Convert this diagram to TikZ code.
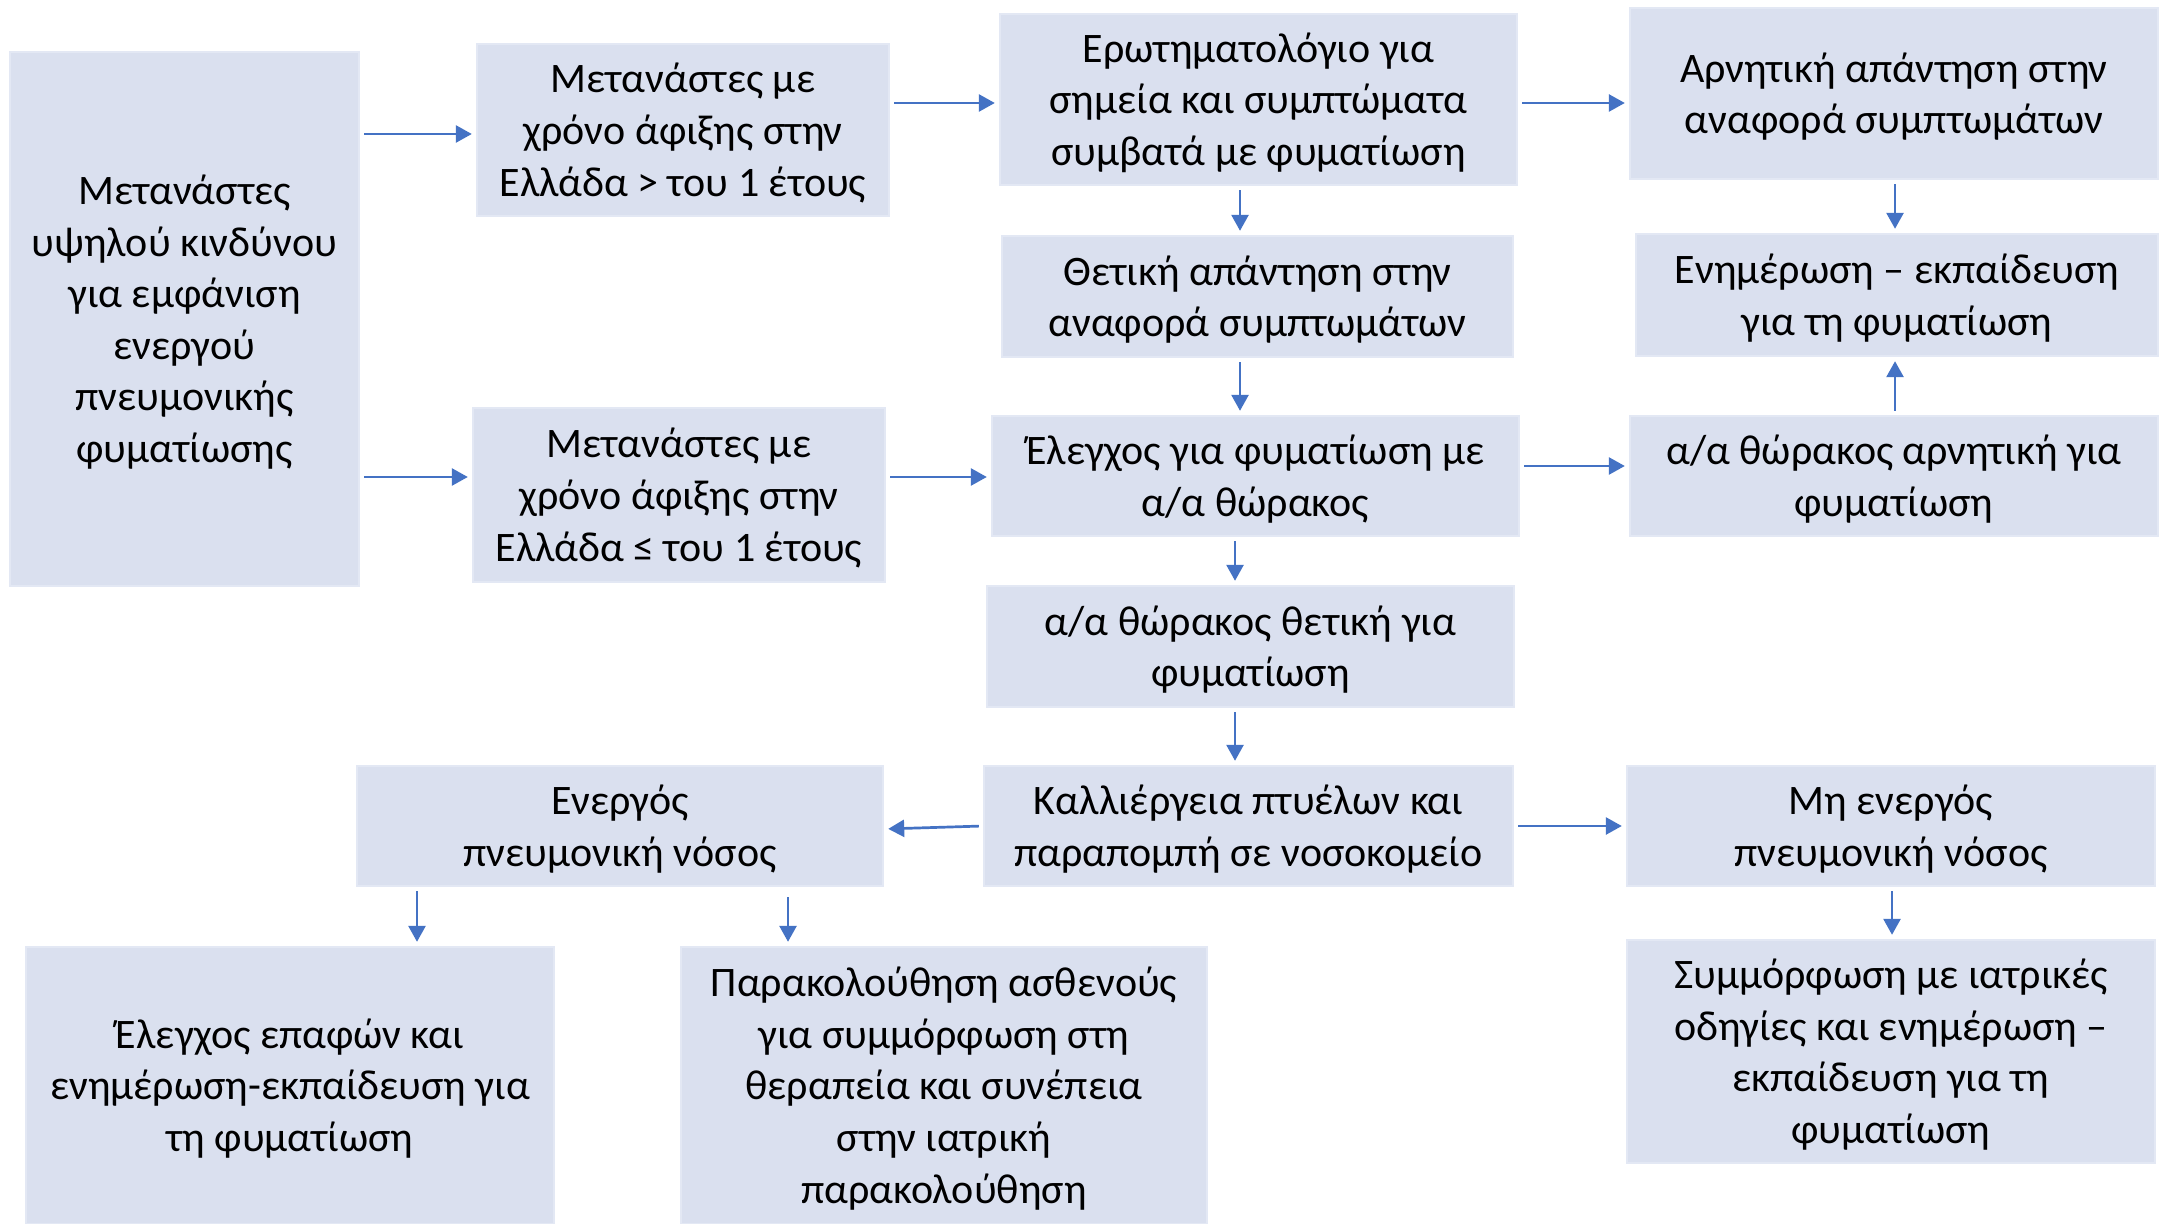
\documentclass[tikz,border=0pt]{standalone}
\usepackage{fontspec}
\setmainfont{Carlito}
\usetikzlibrary{arrows.meta}
\definecolor{boxfill}{HTML}{DAE0EF}
\definecolor{boxedge}{HTML}{E3E8F4}
\definecolor{arrowblue}{HTML}{4472C4}
% \flowbox{name}{width}{height}{centre}{text}: a shaded box with its caption
\newcommand\flowbox[5]{%
  \node (#1) [box, minimum width=#2, minimum height=#3] at #4 {};
  \node (#1-text) [caption] at ([yshift=-1.5pt]#1.center) {#5};}
\begin{document}
\begin{tikzpicture}[x=0.5pt, y=-0.5pt,
  box/.style={fill=boxfill, draw=boxedge, line width=1.2pt, inner sep=0pt},
  caption/.style={inner sep=0pt, align=center, text=black,
    font=\fontsize{21}{25.8}\selectfont},
  arr/.style={draw=arrowblue, line width=1.35pt, shorten <=2pt, shorten >=2pt,
    -{Triangle[length=8pt,width=8.5pt]}}]
\useasboundingbox[fill=white] (0,0) rectangle (2161,1224);

% boxes
\flowbox{L}{174.5pt}{267pt}{(184.5,319)}{Μετανάστες\\υψηλού κινδύνου\\για εμφάνιση\\ενεργού\\πνευμονικής\\φυματίωσης}
\flowbox{B2}{206pt}{86pt}{(683,130)}{Μετανάστες με\\χρόνο άφιξης στην\\Ελλάδα > του 1 έτους}
\flowbox{B3}{258.5pt}{85.5pt}{(1258.5,99.5)}{Ερωτηματολόγιο για\\σημεία και συμπτώματα\\συμβατά με φυματίωση}
\flowbox{B4}{264pt}{85.5pt}{(1894,93.5)}{Αρνητική απάντηση στην\\αναφορά συμπτωμάτων}
\flowbox{B5}{255.5pt}{60.5pt}{(1257.5,296.5)}{Θετική απάντηση στην\\αναφορά συμπτωμάτων}
\flowbox{B6}{261pt}{61pt}{(1897,295)}{Ενημέρωση – εκπαίδευση\\για τη φυματίωση}
\flowbox{B7}{206pt}{87pt}{(679,495)}{Μετανάστες με\\χρόνο άφιξης στην\\Ελλάδα ≤ του 1 έτους}
\flowbox{B8}{263.5pt}{60pt}{(1255.5,476)}{Έλεγχος για φυματίωση με\\α/α θώρακος}
\flowbox{B9}{264pt}{60pt}{(1894,476)}{α/α θώρακος αρνητική για\\φυματίωση}
\flowbox{B10}{263.5pt}{60.5pt}{(1250.5,646.5)}{α/α θώρακος θετική για\\φυματίωση}
\flowbox{B11}{264.5pt}{60pt}{(1248.5,826)}{Καλλιέργεια πτυέλων και\\παραπομπή σε νοσοκομείο}
\flowbox{B12}{263pt}{60pt}{(620,826)}{Ενεργός\\πνευμονική νόσος}
\flowbox{B13}{264pt}{60pt}{(1891,826)}{Μη ενεργός\\πνευμονική νόσος}
\flowbox{B14}{264pt}{138.5pt}{(290,1085.5)}{Έλεγχος επαφών και\\ενημέρωση-εκπαίδευση για\\τη φυματίωση}
\flowbox{B15}{263pt}{138.5pt}{(944,1085.5)}{Παρακολούθηση ασθενούς\\για συμμόρφωση στη\\θεραπεία και συνέπεια\\στην ιατρική\\παρακολούθηση}
\flowbox{B16}{264pt}{111.5pt}{(1891,1051.5)}{Συμμόρφωση με ιατρικές\\οδηγίες και ενημέρωση –\\εκπαίδευση για τη\\φυματίωση}

% connectors
\draw[arr] (L.east |- 0,134) -- (B2.west |- 0,134);
\draw[arr] (L.east |- 0,477) -- (B7.west |- 0,477);
\draw[arr] (B2.east |- 0,103) -- (B3.west |- 0,103);
\draw[arr] (B7.east |- 0,477) -- (B8.west |- 0,477);
\draw[arr] (B3.east |- 0,103) -- (B4.west |- 0,103);
\draw[arr] (B3.south -| 1240,0) -- (B5.north -| 1240,0);
\draw[arr] (B5.south -| 1240,0) -- (B8.north -| 1240,0);
\draw[arr] (B4.south -| 1895,0) -- (B6.north -| 1895,0);
\draw[arr] (B9.north -| 1895,0) -- (B6.south -| 1895,0);
\draw[arr] (B8.east |- 0,466) -- (B9.west |- 0,466);
\draw[arr] (B8.south -| 1235,0) -- (B10.north -| 1235,0);
\draw[arr] (B10.south -| 1235,0) -- (B11.north -| 1235,0);
\draw[arr] (B11.west |- 0,826) -- (B12.east |- 0,829);
\draw[arr] (B11.east |- 0,826) -- (B13.west |- 0,826);
\draw[arr] (B12.south -| 417,0) -- (B14.north -| 417,0);
\draw[arr, shorten <=5pt] (B12.south -| 788,0) -- (B15.north -| 788,0);
\draw[arr] (B13.south -| 1892,0) -- (B16.north -| 1892,0);
\end{tikzpicture}
\end{document}
